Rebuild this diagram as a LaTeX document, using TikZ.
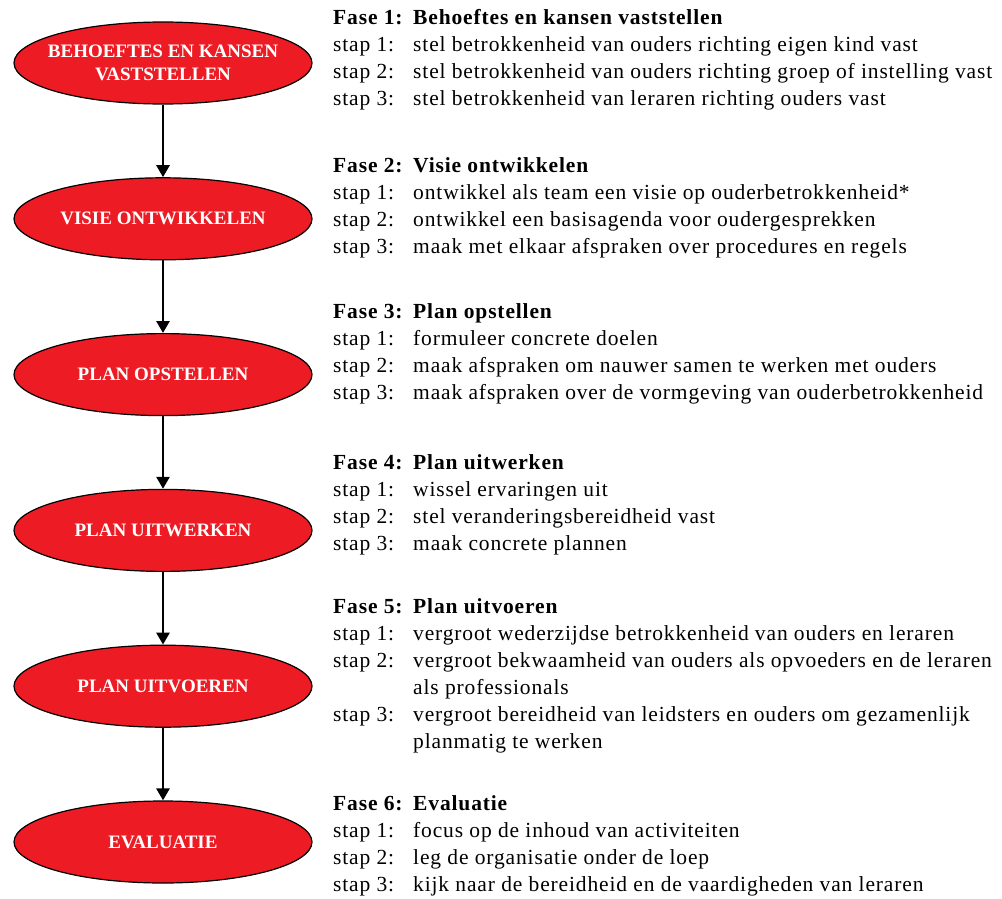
\documentclass[tikz,border=0pt]{standalone}
\usepackage{fontspec}
\setmainfont{Liberation Serif}
\newfontfamily\stapfont{Liberation Serif}[LetterSpace=4]
\usetikzlibrary{shapes.geometric}
\usetikzlibrary{arrows.meta}
\usetikzlibrary{positioning}
\definecolor{fasered}{RGB}{237,28,36}

\begin{document}
\begin{tikzpicture}[x=1pt,y=1pt,
    fase/.style={ellipse, draw=black, line width=1.2pt, fill=fasered, minimum width=298pt, minimum height=82pt, inner sep=0pt, align=center, text=white, font=\fontsize{19}{23}\selectfont\bfseries},
    pijl/.style={line width=2.7pt, -{Triangle[width=13pt,length=12pt]}},
    stappen/.style={anchor=base west, inner sep=0pt, font=\stapfont\fontsize{21.5}{27}\selectfont}]
    \useasboundingbox (0,0) rectangle (1002,-899);

    % fasen
    \node[fase, inner xsep=-10pt] (e1) at (163,-63) {BEHOEFTES EN KANSEN\\VASTSTELLEN};
    \node[fase, below=72.6pt of e1] (e2) {VISIE ONTWIKKELEN};
    \node[fase, below=72.6pt of e2] (e3) {PLAN OPSTELLEN};
    \node[fase, below=72.6pt of e3] (e4) {PLAN UITWERKEN};
    \node[fase, below=72.6pt of e4] (e5) {PLAN UITVOEREN};
    \node[fase, below=72.6pt of e5] (e6) {EVALUATIE};

    \draw[pijl] (e1) -- (e2);
    \draw[pijl] (e2) -- (e3);
    \draw[pijl] (e3) -- (e4);
    \draw[pijl] (e4) -- (e5);
    \draw[pijl] (e5) -- (e6);

    % stappen per fase
    \node[stappen] (t1) at (333,-25) {\begin{tabular}[t]{@{}p{80pt}@{}l@{}}
        \multicolumn{2}{@{}l@{}}{\bfseries\makebox[80pt][l]{Fase 1:}Behoeftes en kansen vaststellen}\\
        stap 1: & stel betrokkenheid van ouders richting eigen kind vast\\
        stap 2: & stel betrokkenheid van ouders richting groep of instelling vast\\
        stap 3: & stel betrokkenheid van leraren richting ouders vast
    \end{tabular}};
    \node[stappen] (t2) at (333,-172) {\begin{tabular}[t]{@{}p{80pt}@{}l@{}}
        \multicolumn{2}{@{}l@{}}{\bfseries\makebox[80pt][l]{Fase 2:}Visie ontwikkelen}\\
        stap 1: & ontwikkel als team een visie op ouderbetrokkenheid*\\
        stap 2: & ontwikkel een basisagenda voor oudergesprekken\\
        stap 3: & maak met elkaar afspraken over procedures en regels
    \end{tabular}};
    \node[stappen] (t3) at (333,-318) {\begin{tabular}[t]{@{}p{80pt}@{}l@{}}
        \multicolumn{2}{@{}l@{}}{\bfseries\makebox[80pt][l]{Fase 3:}Plan opstellen}\\
        stap 1: & formuleer concrete doelen\\
        stap 2: & maak afspraken om nauwer samen te werken met ouders\\
        stap 3: & maak afspraken over de vormgeving van ouderbetrokkenheid
    \end{tabular}};
    \node[stappen] (t4) at (333,-469) {\begin{tabular}[t]{@{}p{80pt}@{}l@{}}
        \multicolumn{2}{@{}l@{}}{\bfseries\makebox[80pt][l]{Fase 4:}Plan uitwerken}\\
        stap 1: & wissel ervaringen uit\\
        stap 2: & stel veranderingsbereidheid vast\\
        stap 3: & maak concrete plannen
    \end{tabular}};
    \node[stappen] (t5) at (333,-613) {\begin{tabular}[t]{@{}p{80pt}@{}l@{}}
        \multicolumn{2}{@{}l@{}}{\bfseries\makebox[80pt][l]{Fase 5:}Plan uitvoeren}\\
        stap 1: & vergroot wederzijdse betrokkenheid van ouders en leraren\\
        stap 2: & vergroot bekwaamheid van ouders als opvoeders en de leraren\\
                & als professionals\\
        stap 3: & vergroot bereidheid van leidsters en ouders om gezamenlijk\\
                & planmatig te werken
    \end{tabular}};
    \node[stappen] (t6) at (333,-810) {\begin{tabular}[t]{@{}p{80pt}@{}l@{}}
        \multicolumn{2}{@{}l@{}}{\bfseries\makebox[80pt][l]{Fase 6:}Evaluatie}\\
        stap 1: & focus op de inhoud van activiteiten\\
        stap 2: & leg de organisatie onder de loep\\
        stap 3: & kijk naar de bereidheid en de vaardigheden van leraren
    \end{tabular}};
\end{tikzpicture}
\end{document}
